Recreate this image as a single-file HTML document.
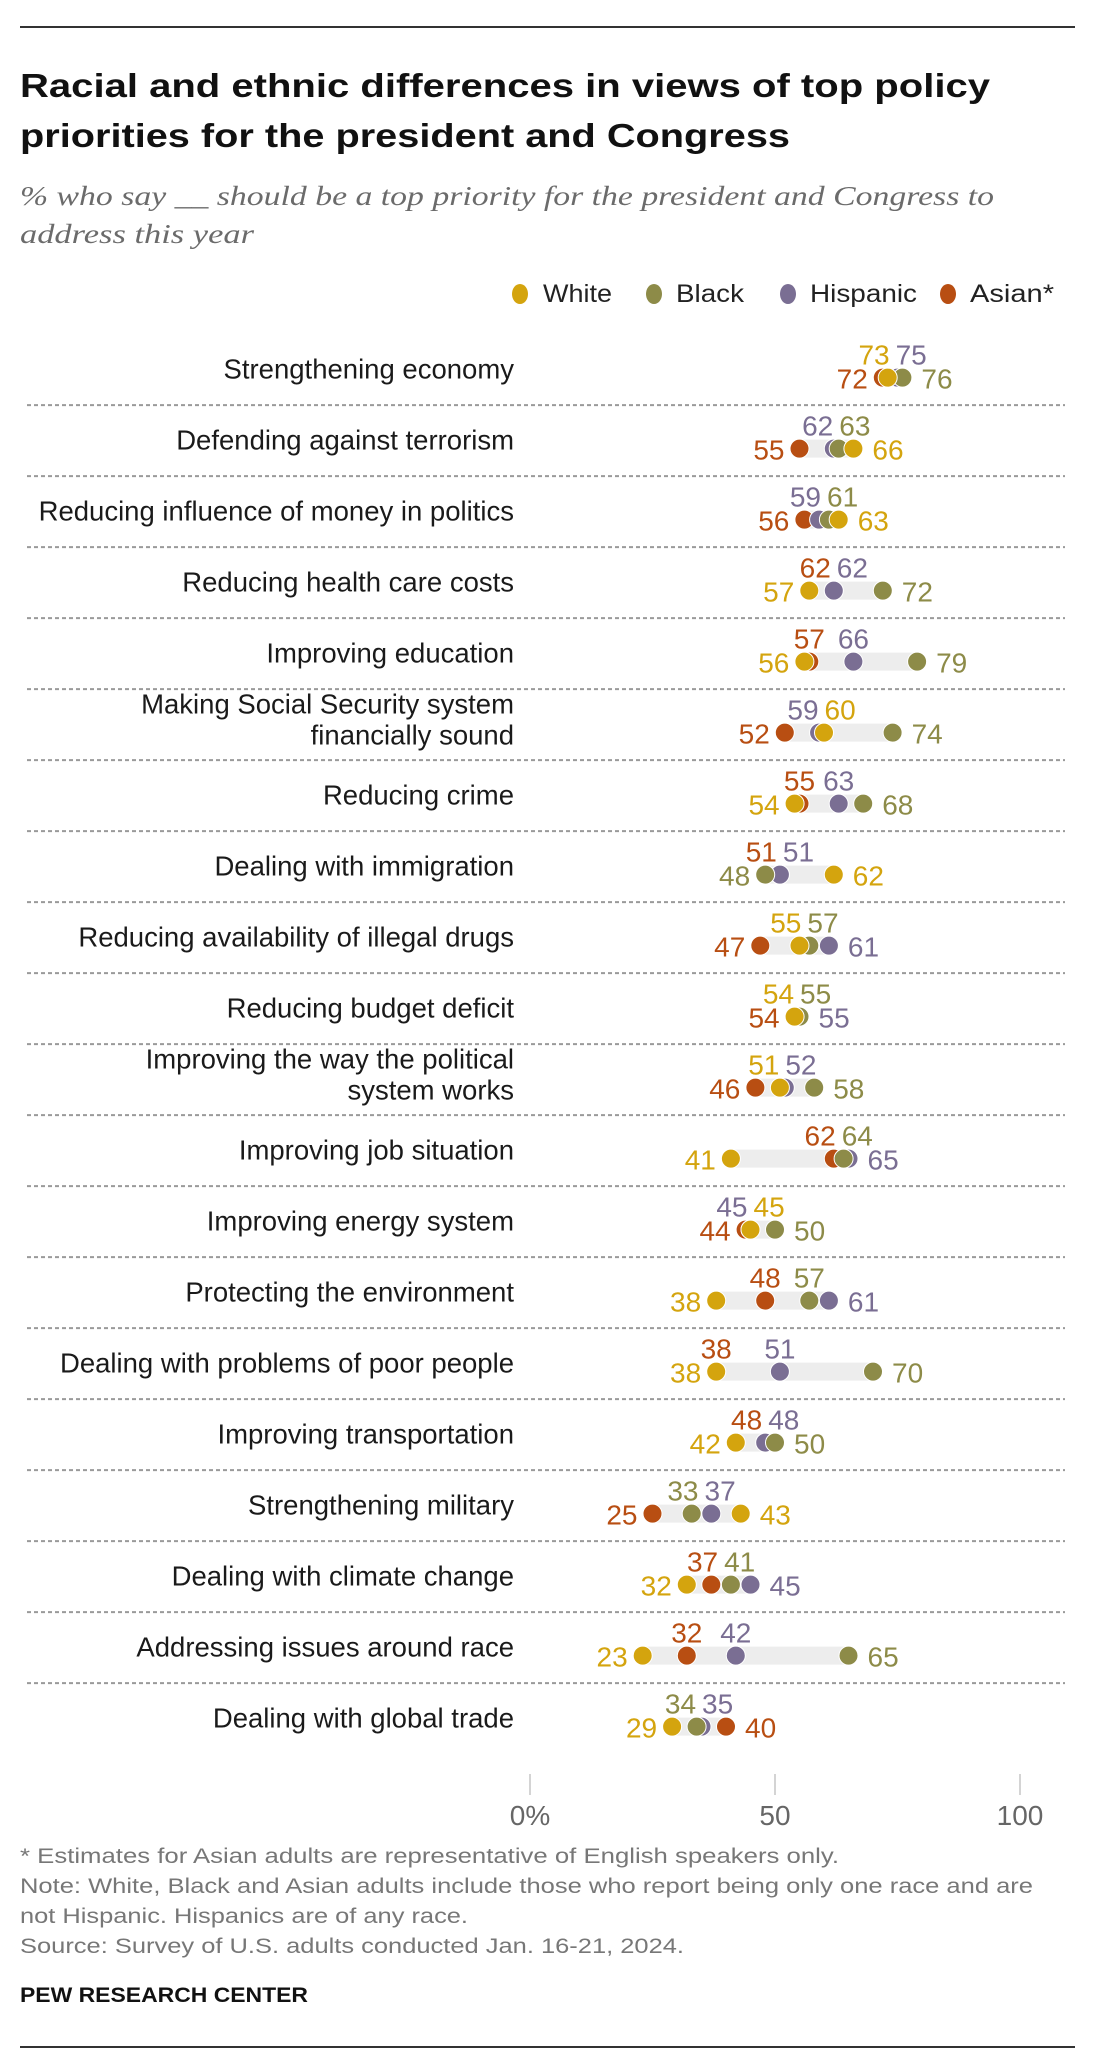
<!DOCTYPE html>
<html><head><meta charset="utf-8"><style>
html,body{margin:0;padding:0;background:#fff;}
svg{display:block;font-family:"Liberation Sans",sans-serif;}
</style></head><body>
<svg id="chart" width="1093" height="2062" viewBox="0 0 1093 2062">
<line x1="20" y1="27" x2="1075" y2="27" stroke="#333" stroke-width="2"/>
<text x="20" y="97" font-size="33" font-weight="bold" fill="#111" textLength="970" lengthAdjust="spacingAndGlyphs">Racial and ethnic differences in views of top policy</text>
<text x="20" y="147" font-size="33" font-weight="bold" fill="#111" textLength="770" lengthAdjust="spacingAndGlyphs">priorities for the president and Congress</text>
<text x="20" y="205" font-size="27" font-style="italic" fill="#6b6b6b" font-family="Liberation Serif, serif" textLength="974" lengthAdjust="spacingAndGlyphs">% who say __ should be a top priority for the president and Congress to</text>
<text x="20" y="243" font-size="27" font-style="italic" fill="#6b6b6b" font-family="Liberation Serif, serif" textLength="234" lengthAdjust="spacingAndGlyphs">address this year</text>
<g>
<ellipse cx="520" cy="294" rx="8" ry="10" fill="#d4a40e"/>
<text x="543" y="302" font-size="25" fill="#222" textLength="69" lengthAdjust="spacingAndGlyphs">White</text>
<ellipse cx="654" cy="294" rx="8" ry="10" fill="#8d8b48"/>
<text x="676" y="302" font-size="25" fill="#222" textLength="68" lengthAdjust="spacingAndGlyphs">Black</text>
<ellipse cx="788" cy="294" rx="8" ry="10" fill="#7a6e93"/>
<text x="810" y="302" font-size="25" fill="#222" textLength="107" lengthAdjust="spacingAndGlyphs">Hispanic</text>
<ellipse cx="948" cy="294" rx="8" ry="10" fill="#b84e12"/>
<text x="970" y="302" font-size="25" fill="#222" textLength="84" lengthAdjust="spacingAndGlyphs">Asian*</text>
</g>
<g id="plot"></g>
<g font-size="21" fill="#777">
<text x="20" y="1863" textLength="819" lengthAdjust="spacingAndGlyphs">* Estimates for Asian adults are representative of English speakers only.</text>
<text x="20" y="1893" textLength="1013" lengthAdjust="spacingAndGlyphs">Note: White, Black and Asian adults include those who report being only one race and are</text>
<text x="20" y="1923" textLength="448" lengthAdjust="spacingAndGlyphs">not Hispanic. Hispanics are of any race.</text>
<text x="20" y="1953" textLength="664" lengthAdjust="spacingAndGlyphs">Source: Survey of U.S. adults conducted Jan. 16-21, 2024.</text>
</g>
<text x="20" y="2002" font-size="21" font-weight="bold" fill="#111" textLength="288" lengthAdjust="spacingAndGlyphs">PEW RESEARCH CENTER</text>
<line x1="20" y1="2047" x2="1075" y2="2047" stroke="#333" stroke-width="2"/>
</svg>
<script>
const categories = [
  ["Strengthening economy"],["Defending against terrorism"],["Reducing influence of money in politics"],
  ["Reducing health care costs"],["Improving education"],["Making Social Security system","financially sound"],
  ["Reducing crime"],["Dealing with immigration"],["Reducing availability of illegal drugs"],
  ["Reducing budget deficit"],["Improving the way the political","system works"],["Improving job situation"],
  ["Improving energy system"],["Protecting the environment"],["Dealing with problems of poor people"],
  ["Improving transportation"],["Strengthening military"],["Dealing with climate change"],
  ["Addressing issues around race"],["Dealing with global trade"]
];
const white    = [73,66,63,57,56,60,54,62,55,54,51,41,45,38,38,42,43,32,23,29];
const black    = [76,63,61,72,79,74,68,48,57,55,58,64,50,57,70,50,33,41,65,34];
const hispanic = [75,62,59,62,66,59,63,51,61,55,52,65,45,61,51,48,37,45,42,35];
const asian    = [72,55,56,62,57,52,55,51,47,54,46,62,44,48,38,48,25,37,32,40];
const tickValues = [0,50,100];
const tickLabels = ["0%","50","100"];
const minTieOverride = {14: 0};

const NS = "http://www.w3.org/2000/svg";
const plot = document.getElementById("plot");
const X0 = 530, PX = 4.9;
const xScale = v => X0 + v * PX;
const ROW0 = 369.6, PITCH = 71;
const rowY = i => ROW0 + i * PITCH;
const seriesNames = ["white","black","hispanic","asian"];
const colors = ["#d4a40e","#8d8b48","#7a6e93","#b84e12"];
const drawOrder = [3,2,1,0];

function mk(tag, attrs){ const e=document.createElementNS(NS,tag); for(const k in attrs) e.setAttribute(k,attrs[k]); plot.appendChild(e); return e; }

categories.forEach((lab, i) => {
  const c = rowY(i);
  if (i < categories.length - 1) {
    const s = mk("line",{x1:27,y1:c+35.5,x2:1065,y2:c+35.5,stroke:"#9a9a9a","stroke-width":2,"stroke-dasharray":"4 3"});
    
    
  }
  lab.forEach((ln, k) => {
    const y = lab.length === 1 ? c + 9 : c - 11 + k * 31;
    const t = mk("text",{x:514,y:y,"text-anchor":"end","font-size":27.5,fill:"#1a1a1a"});
    t.textContent = ln;
    
    
  });
  const vals = [white[i], black[i], hispanic[i], asian[i]];
  const dy = c + 8;
  const mn = Math.min(...vals), mx = Math.max(...vals);
  const band = mk("rect",{x:xScale(mn),y:dy-9,width:xScale(mx)-xScale(mn),height:18,fill:"#ededed"});
  
  
  let minIdx = -1, maxIdx = -1;
  vals.forEach((v, s) => { if (v === mn) minIdx = s; });
  if (minTieOverride[i] !== undefined) minIdx = minTieOverride[i];
  vals.forEach((v, s) => { if (v === mx && s !== minIdx) maxIdx = s; });
  drawOrder.forEach(s => {
    const d = mk("circle",{cx:xScale(vals[s]),cy:dy,r:9.5,fill:colors[s],stroke:"#fff","stroke-width":1});
    
    
  });
  const lt = mk("text",{x:xScale(vals[minIdx])-15,y:c+19,"text-anchor":"end","font-size":28,fill:colors[minIdx]});
  lt.textContent = vals[minIdx];
  
  
  const rt = mk("text",{x:xScale(vals[maxIdx])+19,y:c+19,"text-anchor":"start","font-size":28,fill:colors[maxIdx]});
  rt.textContent = vals[maxIdx];
  
  
  const mids = [0,1,2,3].filter(s => s !== minIdx && s !== maxIdx).sort((a,b)=>vals[a]-vals[b] || b-a);
  const xa = xScale(vals[mids[0]]), xb = xScale(vals[mids[1]]);
  let pa, pb;
  if (xb - xa < 34) { const m=(xa+xb)/2; pa={x:m-3,a:"end"}; pb={x:m+3,a:"start"}; }
  else { pa={x:xa,a:"middle"}; pb={x:xb,a:"middle"}; }
  [[mids[0],pa],[mids[1],pb]].forEach(([s,p]) => {
    const t = mk("text",{x:p.x,y:c-5,"text-anchor":p.a,"font-size":28,fill:colors[s]});
    t.textContent = vals[s];
    
    
  });
});
tickValues.forEach((v, k) => {
  const l = mk("line",{x1:xScale(v),y1:1774,x2:xScale(v),y2:1795,stroke:"#aaa","stroke-width":1});
  
  
  const t = mk("text",{x:xScale(v),y:1825,"text-anchor":"middle","font-size":28,fill:"#666"});
  t.textContent = tickLabels[k];
  
  
});
</script>
</body></html>
